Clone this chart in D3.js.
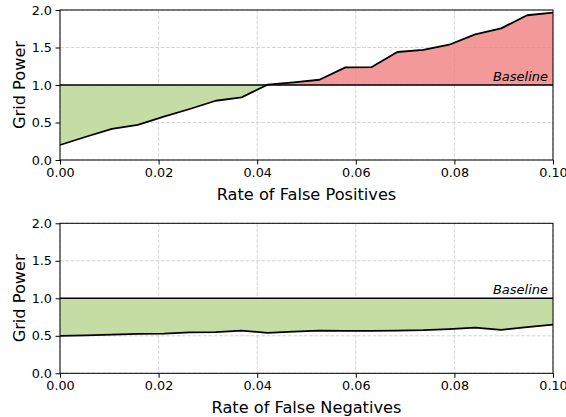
<!DOCTYPE html>
<html><head><meta charset="utf-8">
<script src="https://cdn.jsdelivr.net/npm/d3@7"></script>
<style>body{margin:0;background:#fff}svg{display:block}text{font-family:"DejaVu Sans",sans-serif}</style>
</head><body>
<script>
const xs = [0,0.005263,0.010526,0.015789,0.021053,0.026316,0.031579,0.036842,0.042105,0.047368,0.052632,0.057895,0.063158,0.068421,0.073684,0.078947,0.084211,0.089474,0.094737,0.1];
const fpValues = [0.20,0.31,0.415,0.467,0.578,0.68,0.79,0.835,1.004,1.036,1.07,1.235,1.237,1.44,1.467,1.537,1.675,1.755,1.93,1.965];
const fnValues = [0.50,0.505,0.515,0.525,0.53,0.545,0.55,0.57,0.54,0.555,0.57,0.565,0.565,0.57,0.575,0.59,0.61,0.58,0.615,0.65];
const xTicks = [0,0.02,0.04,0.06,0.08,0.10];
const yTicks = [0,0.5,1.0,1.5,2.0];
const baseline = 1.0;
const panels = [
  {values: fpValues, xlabel: "Rate of False Positives", top: 10},
  {values: fnValues, xlabel: "Rate of False Negatives", top: 223.3}
];

const W = 566, H = 417;
const svg = d3.select("body").append("svg").attr("width", W).attr("height", H);
const left = 60, right = 553, ph = 150;

panels.forEach((p, i) => {
  const x = d3.scaleLinear().domain([0, 0.1]).range([left, right]);
  const y = d3.scaleLinear().domain([0, 2]).range([p.top + ph, p.top]);
  const g = svg.append("g");
  const data = xs.map((d, j) => [d, p.values[j]]);

  // grid
  g.append("g").selectAll("line").data(xTicks).join("line")
    .attr("x1", d => x(d)).attr("x2", d => x(d)).attr("y1", p.top).attr("y2", p.top + ph)
    .attr("stroke", "#d0d0d0").attr("stroke-width", 0.9).attr("stroke-dasharray", "3.7,1.6");
  g.append("g").selectAll("line").data(yTicks).join("line")
    .attr("x1", left).attr("x2", right).attr("y1", d => y(d)).attr("y2", d => y(d))
    .attr("stroke", "#d0d0d0").attr("stroke-width", 0.9).attr("stroke-dasharray", "3.7,1.6");

  // clips
  const cb = "clipBelow" + i, ca = "clipAbove" + i;
  const defs = svg.append("defs");
  defs.append("clipPath").attr("id", cb).append("rect")
    .attr("x", left).attr("width", right - left).attr("y", y(baseline)).attr("height", p.top + ph - y(baseline));
  defs.append("clipPath").attr("id", ca).append("rect")
    .attr("x", left).attr("width", right - left).attr("y", p.top).attr("height", y(baseline) - p.top);

  const area = d3.area().x(d => x(d[0])).y0(y(baseline)).y1(d => y(d[1]));
  g.append("path").datum(data).attr("d", area).attr("fill", "#c5dca4").attr("clip-path", `url(#${cb})`);
  g.append("path").datum(data).attr("d", area).attr("fill", "#f08080").attr("fill-opacity", 0.8).attr("clip-path", `url(#${ca})`);

  // baseline
  g.append("line").attr("x1", left).attr("x2", right).attr("y1", y(baseline)).attr("y2", y(baseline))
    .attr("stroke", "#000").attr("stroke-width", 1.6);
  // line
  g.append("path").datum(data).attr("d", d3.line().x(d => x(d[0])).y(d => y(d[1])))
    .attr("fill", "none").attr("stroke", "#000").attr("stroke-width", 1.8).attr("stroke-linejoin", "round");

  g.append("text").attr("x", right - 5).attr("y", y(baseline) - 4).attr("text-anchor", "end")
    .attr("font-style", "italic").attr("font-size", 13).text("Baseline");

  // axes
  const xa = g.append("g").attr("transform", `translate(0,${p.top + ph})`)
    .call(d3.axisBottom(x).tickValues(xTicks).tickFormat(d3.format(".2f")).tickSize(4.5).tickPadding(3.5));
  const ya = g.append("g").attr("transform", `translate(${left},0)`)
    .call(d3.axisLeft(y).tickValues(yTicks).tickFormat(d3.format(".1f")).tickSize(4.5).tickPadding(3.5));
  [xa, ya].forEach(a => {
    a.select(".domain").remove();
    a.selectAll("text").attr("font-size", 12.8).attr("fill", "#000").attr("font-family", "DejaVu Sans");
    a.selectAll("line").attr("stroke", "#000").attr("stroke-width", 1);
  });
  // frame
  g.append("rect").attr("x", left).attr("y", p.top).attr("width", right - left).attr("height", ph)
    .attr("fill", "none").attr("stroke", "#000").attr("stroke-width", 1);

  g.append("text").attr("x", (left + right) / 2).attr("y", p.top + ph + 39.5).attr("text-anchor", "middle")
    .attr("font-size", 16.2).text(p.xlabel);
  g.append("text").attr("transform", `translate(24.5,${p.top + ph / 2}) rotate(-90)`).attr("text-anchor", "middle")
    .attr("font-size", 16.2).text("Grid Power");
});
</script>
</body></html>
